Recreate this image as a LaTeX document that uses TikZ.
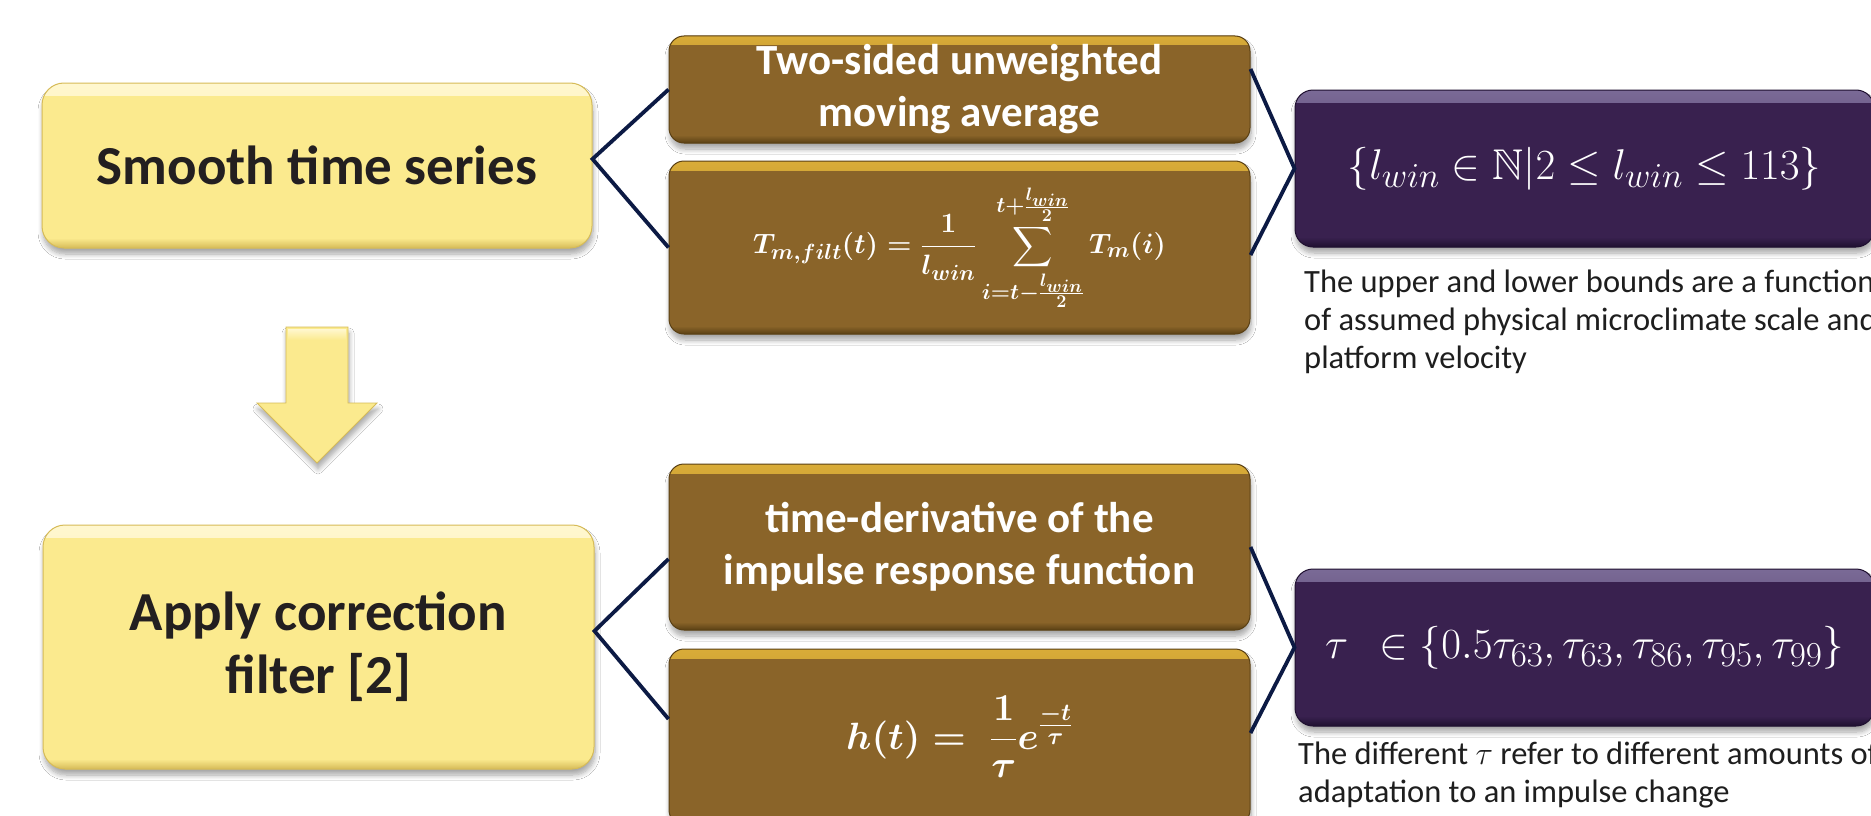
\RequirePackage{fix-cm}
\documentclass[tikz,border=0pt]{standalone}
\usepackage{amsmath,amssymb}
\DeclareFontFamily{U}{msb}{}
\DeclareFontShape{U}{msb}{m}{n}{<->msbm10}{}
\usepackage[no-math]{fontspec}
\setmainfont{Carlito}
\usetikzlibrary{shadows.blur}
\DeclareMathSizes{43}{43}{35}{28}
\DeclareMathSizes{28}{28}{22}{18}
\DeclareMathSizes{38}{38}{30}{24}
\definecolor{ybase}{HTML}{FBEA8E}
\definecolor{ylight}{HTML}{FFF7CF}
\definecolor{ydark}{HTML}{D6BB58}
\definecolor{ytext}{HTML}{231F20}
\definecolor{bbase}{HTML}{8A6429}
\definecolor{blight}{HTML}{D9AC38}
\definecolor{bdark}{HTML}{5A4014}
\definecolor{pbase}{HTML}{39214F}
\definecolor{plight}{HTML}{7A6A96}
\definecolor{pdark}{HTML}{1F1030}
\definecolor{conncol}{HTML}{0C1A44}
\definecolor{notecol}{HTML}{1E1E1E}
\newsavebox\movavgbox
\newsavebox\impulsebox
\newsavebox\lwinbox
\newsavebox\taubox
\tikzset{
  bevel/.style n args={5}{fill=#1, draw=#3, line width=1pt,
    path picture={
      \shade[sharp corners, top color=#2, bottom color=#1]
        (path picture bounding box.north west) rectangle ([yshift=-#4]path picture bounding box.north east);
      \shade[sharp corners, top color=#1, bottom color=#3]
        ([yshift=#5]path picture bounding box.south west) rectangle (path picture bounding box.south east);
    }},
  boxshadow/.style={blur shadow={shadow xshift=1pt, shadow yshift=-6pt, shadow opacity=35, shadow blur steps=8, shadow blur radius=5pt}},
  yellowbox/.style={boxshadow, bevel={ybase}{ylight}{ydark}{12pt}{10pt}, rounded corners=22pt,
    inner sep=0pt, align=center, text=ytext, font={\fontsize{55}{63}\selectfont\bfseries}},
  brownbox/.style={boxshadow, bevel={bbase}{blight}{bdark}{9pt}{8pt}, rounded corners=15pt,
    inner sep=0pt, text=white, minimum width=581pt, font={\fontsize{43}{52}\selectfont\bfseries}},
  purplebox/.style={boxshadow, bevel={pbase}{plight}{pdark}{12pt}{10pt}, rounded corners=18pt,
    inner sep=0pt, text=white, minimum width=579pt, minimum height=157pt},
  note/.style={inner sep=0pt, align=left, anchor=north west, text=notecol,
    font={\fontsize{32.5}{38}\selectfont}},
  conn/.style={draw=conncol, line width=3.8pt},
  bigarrow/.style={boxshadow, fill=ybase, draw=ydark, line width=0.8pt}
}
\begin{document}
\sbox\movavgbox{\color{white}\fontsize{28}{32}\selectfont\boldmath$\displaystyle T_{m,filt}(t)=\frac{1}{l_{win}}\sum_{i=t-\frac{l_{win}}{2}}^{t+\frac{l_{win}}{2}} T_m(i)$}%
\sbox\impulsebox{\color{white}\fontsize{38}{44}\selectfont\boldmath$\displaystyle h(t)=\;\frac{1}{\tau}e^{\frac{-t}{\tau}}$}%
\sbox\lwinbox{\color{white}\fontsize{43}{50}\selectfont$\{l_{win}\in\mathbb{N}|2\le l_{win}\le 113\}$}%
\sbox\taubox{\color{white}\fontsize{43}{50}\selectfont$\tau\;\,\in\{0.5\tau_{63},\tau_{63},\tau_{86},\tau_{95},\tau_{99}\}$}%
\begin{tikzpicture}[x=1pt,y=-1pt]
\useasboundingbox (0,0) rectangle (1871,816);
\clip (0,0) rectangle (1871,816);
\fill[white] (0,0) rectangle (1871,816);

% left column
\node[yellowbox, minimum width=550pt, minimum height=165pt] (yellow1) at (317,165.5) {Smooth time series};
\node[yellowbox, minimum width=551pt, minimum height=244pt] (yellow2) at (318.5,647) {Apply correction\\filter [2]};

% down arrow between the yellow boxes
\path[bigarrow] (286,327) -- (348,327) -- (348,403) -- (377,403) -- (317,463) -- (257,403) -- (286,403) -- cycle;
\shade[top color=ylight, bottom color=ybase] (288,329) rectangle (346,340);

% middle column
\node[brownbox, align=center, minimum height=107pt] (brown1) at (959.5,89.5) {Two-sided unweighted\\moving average};
\node[brownbox, minimum height=173pt] (brown2) at (959.5,247.5) {\usebox\movavgbox};
\node[brownbox, align=center, minimum height=166pt] (brown3) at (959.5,547) {time-derivative of the\\impulse response function};
\node[brownbox, minimum height=176pt] (brown4) at (959.5,737) {\usebox\impulsebox};

% right column
\node[purplebox] (purple1) at (1584.5,168.5) {\usebox\lwinbox};
\node[purplebox] (purple2) at (1584.5,647.5) {\usebox\taubox};

\node[note] (note1) at (1304,265.4) {\strut The upper and lower bounds are a function\\of assumed physical microclimate scale and\\platform velocity};
\node[note] (note2) at (1298,737.4) {\strut The different $\tau$ refer to different amounts of\\adaptation to an impulse change};

% connectors
\draw[conn] (brown1.west) -- ([yshift=6.5pt]yellow1.east) -- (brown2.west);
\draw[conn] ([yshift=-12pt]brown3.west) -- ([yshift=16pt]yellow2.east) -- ([yshift=18pt]brown4.west);
\draw[conn] ([yshift=20.5pt]brown1.east) -- (purple1.west) -- ([yshift=-7.5pt]brown2.east);
\draw[conn] (brown3.east) -- (purple2.west) -- ([yshift=4pt]brown4.east);
\end{tikzpicture}
\end{document}
